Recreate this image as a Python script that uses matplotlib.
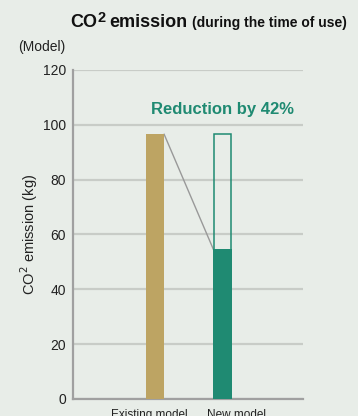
import matplotlib
matplotlib.use("Agg")
import matplotlib.pyplot as plt
from matplotlib.transforms import offset_copy

categories = ["Existing model", "New model"]
existing_value = 96.5
new_value = 54.5
yticks = [0, 20, 40, 60, 80, 100, 120]

BG = "#e8ede8"
GOLD = "#bda463"
GREEN = "#1f8a72"
FONT = ["Liberation Sans", "DejaVu Sans"]
plt.rcParams["font.family"] = FONT

fig = plt.figure(figsize=(3.58, 4.16), dpi=100, facecolor=BG)
ax = fig.add_axes([0.204, 0.041, 0.642, 0.791], facecolor=BG)

x = [0, 1]
w = 0.27
ax.bar(x[0], existing_value, width=w, color=GOLD, zorder=3)
ax.bar(x[1], new_value, width=w, color=GREEN, zorder=3)
ax.bar(x[1], existing_value, width=w - 0.02, facecolor="none", edgecolor=GREEN,
       linewidth=1.1, zorder=4)
ax.plot([x[0] + w / 2, x[1] - w / 2], [existing_value, new_value],
        color="#999999", lw=1.0, zorder=2)

ax.set_xlim(-1.215, 2.19)
ax.set_ylim(0, 120)
ax.set_yticks(yticks)
ax.set_xticks([x[0] - 0.09, x[1] + 0.21])
ax.tick_params(axis="both", length=0, labelsize=10, colors="#222222")
ax.set_xticklabels(categories, fontsize=8.5, color="#222222")
ax.tick_params(axis="x", pad=7.5)
ax.tick_params(axis="y", pad=5)
ax.grid(axis="y", color="#c8ccc7", lw=1.6, zorder=0)
ax.set_axisbelow(True)
for s in ["top", "right"]:
    ax.spines[s].set_visible(False)
for s in ["left", "bottom"]:
    ax.spines[s].set_color("#a0a0a0")
    ax.spines[s].set_linewidth(1.6)

ax.set_ylabel("CO$^2$ emission (kg)", fontsize=10.5, color="#222222", labelpad=2)

ax.text(1.0, 104, "Reduction by 42%", color=GREEN, fontsize=12,
        fontweight="bold", ha="center", va="baseline")

fig.text(18 / 358, 1 - 47 / 416, "(Model)", fontsize=10, color="#222222",
         va="center", ha="left")

# Title with superscript
X0, Y0 = 70 / 358, 1 - 27 / 416
t1 = fig.text(X0, Y0, "CO", fontsize=13, fontweight="bold",
              color="#111111", va="baseline", ha="left")
fig.canvas.draw()
r = fig.canvas.get_renderer()
bb = t1.get_window_extent(r)
tr = offset_copy(fig.transFigure, fig=fig, x=bb.width * 72 / fig.dpi + 0.5, y=3.5, units="points")
t2 = fig.text(X0, Y0, "2", fontsize=10.5, fontweight="bold",
              color="#111111", va="baseline", ha="left", transform=tr)
fig.canvas.draw()
bb2 = t2.get_window_extent(r)
tr3 = offset_copy(fig.transFigure, fig=fig, x=(bb2.x1 - bb.x0) * 72 / fig.dpi + 2.5, y=0, units="points")
t3 = fig.text(X0, Y0, "emission", fontsize=13, fontweight="bold",
              color="#111111", va="baseline", ha="left", transform=tr3)
fig.canvas.draw()
bb3 = t3.get_window_extent(r)
tr4 = offset_copy(fig.transFigure, fig=fig, x=(bb3.x1 - bb.x0) * 72 / fig.dpi + 3.5, y=0, units="points")
fig.text(X0, Y0, "(during the time of use)", fontsize=10, fontweight="bold",
         color="#111111", va="baseline", ha="left", transform=tr4)

fig.savefig("out.png", dpi=100, facecolor=BG)
